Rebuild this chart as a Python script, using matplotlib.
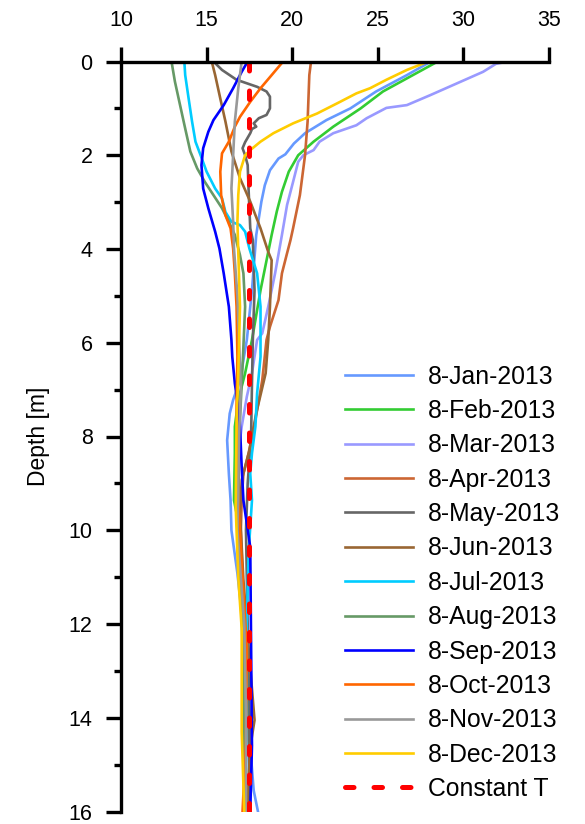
import matplotlib

matplotlib.use('Agg')

import matplotlib.pyplot as plt

plt.rcParams['font.family'] = ['Liberation Sans', 'DejaVu Sans']

# depth profiles: (depth [m], temperature [C])
JAN_D = [0, 0.29, 0.64, 1.0, 1.25, 1.53, 1.75, 1.98, 2.07, 2.32, 2.64, 2.99, 3.70, 4.88, 5.94, 6.8,
         7.22, 7.51, 8.08, 8.79, 9.36, 10.0, 10.92, 11.77, 12.92, 14.63, 15.55, 16]
JAN_T = [28.1, 26.7, 24.9, 23.4, 22.0, 20.75, 20.1, 19.6, 19.2, 18.7, 18.4, 18.2, 17.9, 17.65, 17.35, 16.95,
         16.55, 16.35, 16.2, 16.3, 16.4, 16.45, 16.8, 17.05, 17.35, 17.55, 17.75, 18.0]

FEB_D = [0, 0.32, 0.64, 1.0, 1.39, 1.71, 2.0, 2.35, 2.78, 3.2, 3.7, 4.88, 5.94, 6.65, 7.22, 7.79, 8.36,
         9.36, 9.64, 11.77, 14.63, 16]
FEB_T = [28.5, 26.9, 25.3, 24.0, 22.4, 21.25, 20.35, 19.8, 19.4, 19.1, 18.8, 18.15, 17.65, 17.25, 16.85,
         16.65, 16.65, 16.6, 16.75, 17.05, 17.25, 17.25]

MAR_D = [0, 0.05, 0.22, 0.47, 0.72, 0.93, 0.99, 1.21, 1.36, 1.53, 1.71, 1.89, 2.0, 2.14, 2.57, 3.06, 3.70,
         4.52, 5.23, 5.80, 5.94, 6.65, 7.15, 7.79, 8.36, 9.36, 10.7, 11.9, 13.2, 16]
MAR_T = [32.6, 31.9, 31.15, 29.6, 28.05, 26.7, 25.5, 24.35, 23.75, 22.4, 21.6, 21.25, 20.65, 20.35, 20.05,
         19.7, 19.4, 19.0, 18.6, 18.25, 17.95, 17.65, 17.35, 17.05, 16.85, 16.75, 16.85, 17.05, 17.35, 17.55]

APR_D = [0, 0.29, 1.28, 2.0, 2.85, 3.56, 3.81, 4.09, 4.52, 5.09, 5.66, 5.94, 6.80, 7.65, 8.36, 8.79, 9.36,
         10, 11, 12, 13, 14, 15, 16]
APR_T = [21.1, 21.0, 20.9, 20.75, 20.45, 20.05, 19.9, 19.7, 19.4, 19.2, 18.7, 18.5, 18.25, 17.85, 17.45,
         17.15, 17.05, 17.0, 17.1, 17.3, 17.4, 17.5, 17.5, 17.4]

MAY_D = [0, 0.18, 0.39, 0.54, 0.64, 0.75, 1.0, 1.14, 1.21, 1.32, 1.39, 1.44, 1.53, 1.72, 1.85, 2.0, 2.21,
         2.71, 3.56, 3.81, 4.88, 5.94, 6.87, 8, 9, 10, 12, 14, 16]
MAY_T = [15.4, 15.9, 16.75, 17.95, 18.5, 18.7, 18.7, 18.5, 18.05, 17.75, 17.9, 17.65, 17.55, 17.25, 17.1,
         17.25, 17.4, 17.45, 17.55, 17.7, 17.8, 17.7, 17.65, 17.6, 17.4, 17.3, 17.4, 17.5, 17.5]

JUN_D = [0, 0.29, 0.79, 1.28, 1.92, 2.49, 2.99, 3.56, 4.06, 4.24, 5.23, 5.94, 6.65, 7.5, 8.3, 8.93, 9.64,
         11.07, 12.5, 14.05, 14.63, 16]
JUN_T = [15.3, 15.5, 15.8, 16.1, 16.45, 16.95, 17.55, 18.15, 18.6, 18.8, 18.7, 18.6, 18.45, 17.9, 17.5,
         17.05, 16.95, 17.15, 17.45, 17.8, 17.55, 17.35]

JUL_D = [0, 0.29, 0.79, 1.28, 1.71, 2.0, 2.35, 2.71, 2.92, 3.21, 3.42, 3.49, 3.63, 3.99, 4.52, 5.23, 6.30,
         7.08, 7.79, 8.36, 8.79, 9.36, 10.5, 12, 14, 16]
JUL_T = [13.7, 13.75, 13.95, 14.15, 14.35, 14.65, 15.0, 15.5, 15.9, 16.1, 16.45, 16.95, 17.25, 17.5, 17.95,
         18.15, 18.15, 17.95, 17.85, 17.65, 17.55, 17.65, 17.45, 17.35, 17.35, 17.25]

AUG_D = [0, 0.43, 0.93, 1.43, 1.92, 2.28, 2.57, 2.85, 3.13, 3.42, 3.70, 4.13, 4.52, 5.23, 6.5, 8, 10, 12,
         14, 16]
AUG_T = [12.95, 13.15, 13.45, 13.75, 14.05, 14.45, 14.9, 15.4, 15.9, 16.3, 16.65, 16.95, 17.15, 17.25, 17.1,
         16.9, 16.85, 17.1, 17.2, 17.2]

SEP_D = [0, 0.22, 0.57, 0.93, 1.25, 1.50, 1.85, 2.21, 2.71, 3.13, 3.63, 3.99, 4.52, 5.23, 5.94, 6.3, 6.87,
         7.37, 7.79, 8.65, 9.36, 10.36, 12.49, 14.6, 16]
SEP_T = [17.4, 17.05, 16.55, 16.0, 15.4, 15.1, 14.8, 14.7, 14.8, 15.1, 15.5, 15.75, 16.0, 16.3, 16.45, 16.5,
         16.65, 16.85, 16.95, 17.05, 17.15, 17.55, 17.6, 17.65, 17.55]

OCT_D = [0, 0.03, 0.29, 0.57, 0.86, 1.18, 1.39, 1.71, 1.96, 2.35, 2.85, 3.28, 3.56, 3.99, 4.52, 5.23, 6.30,
         7.37, 8.08, 9.36, 10.7, 12.5, 14.5, 16]
OCT_T = [19.7, 19.4, 18.8, 18.15, 17.55, 16.95, 16.65, 16.3, 15.9, 15.8, 15.85, 16.1, 16.4, 16.55, 16.65,
         16.75, 16.8, 16.75, 16.8, 16.85, 17.05, 17.35, 17.3, 17.1]

NOV_D = [0, 0.57, 1.28, 2.0, 2.71, 3.42, 3.99, 5, 6, 7, 8, 10, 12, 14, 16]
NOV_T = [17.05, 16.85, 16.65, 16.55, 16.45, 16.55, 16.6, 16.8, 16.9, 17.0, 16.9, 16.8, 17.2, 17.3, 17.3]

DEC_D = [0, 0.18, 0.39, 0.57, 0.68, 0.86, 1.11, 1.32, 1.53, 1.71, 1.89, 2.0, 2.35, 2.85, 3.42, 4.06, 5.23,
         6.65, 7.72, 9.5, 11.0, 12.1, 14.3, 16]
DEC_T = [27.95, 26.7, 25.5, 24.55, 23.75, 22.8, 21.45, 20.05, 18.9, 18.15, 17.55, 17.25, 16.95, 16.85, 16.8,
         16.85, 16.95, 16.85, 16.75, 16.7, 16.85, 17.05, 17.05, 17.2]

CONST_D = [0, 16]
CONST_T = [17.5, 17.5]

SERIES = [
    ('8-Jan-2013', JAN_T, JAN_D, '#6699FF'),
    ('8-Feb-2013', FEB_T, FEB_D, '#33CC33'),
    ('8-Mar-2013', MAR_T, MAR_D, '#9999FF'),
    ('8-Apr-2013', APR_T, APR_D, '#CC6633'),
    ('8-May-2013', MAY_T, MAY_D, '#666666'),
    ('8-Jun-2013', JUN_T, JUN_D, '#996633'),
    ('8-Jul-2013', JUL_T, JUL_D, '#00CCFF'),
    ('8-Aug-2013', AUG_T, AUG_D, '#669966'),
    ('8-Sep-2013', SEP_T, SEP_D, '#0000FF'),
    ('8-Oct-2013', OCT_T, OCT_D, '#FF6600'),
    ('8-Nov-2013', NOV_T, NOV_D, '#999999'),
    ('8-Dec-2013', DEC_T, DEC_D, '#FFCC00'),
]


def main():
    fig = plt.figure(figsize=(5.85, 8.24), dpi=100)
    ax = fig.add_axes([121 / 585, 1 - 811.5 / 824, 428 / 585, 750 / 824])

    for label, temps, depths, color in SERIES:
        ax.plot(temps, depths, color=color, linewidth=1.9, label=label)

    ax.plot(CONST_T, CONST_D, color='#FF0000', linewidth=3.6,
            linestyle=(0, (1.7, 4.0)), dash_capstyle='round', label='Constant T')

    ax.set_xlim(10, 35)
    ax.set_ylim(16, 0)
    ax.set_xticks([10, 15, 20, 25, 30, 35])
    ax.set_yticks(range(0, 17, 2))
    ax.set_yticks(range(1, 17, 2), minor=True)

    ax.xaxis.tick_top()
    ax.spines['right'].set_visible(False)
    ax.spines['bottom'].set_visible(False)
    ax.spines['top'].set_linewidth(2.4)
    ax.spines['left'].set_linewidth(2.4)

    ax.tick_params(axis='x', which='major', direction='out', length=11, width=2.4,
                   pad=11, labelsize=15.5)
    ax.tick_params(axis='y', which='major', direction='out', length=11, width=2.4,
                   pad=9.5, labelsize=15.5)
    ax.tick_params(axis='y', which='minor', direction='out', length=5, width=2.4)

    ax.set_ylabel('Depth [m]', fontsize=16.5)
    ax.yaxis.set_label_coords(-0.166, 0.5)

    ax.legend(loc='upper left', bbox_to_anchor=(345 / 585, 1 - 364.5 / 824),
              bbox_transform=fig.transFigure, frameon=False, fontsize=17.8,
              handlelength=2.75, handletextpad=0.6, labelspacing=0.42,
              borderpad=0, borderaxespad=0)

    fig.savefig('out.png', dpi=100)
    plt.close(fig)


if __name__ == '__main__':
    main()
